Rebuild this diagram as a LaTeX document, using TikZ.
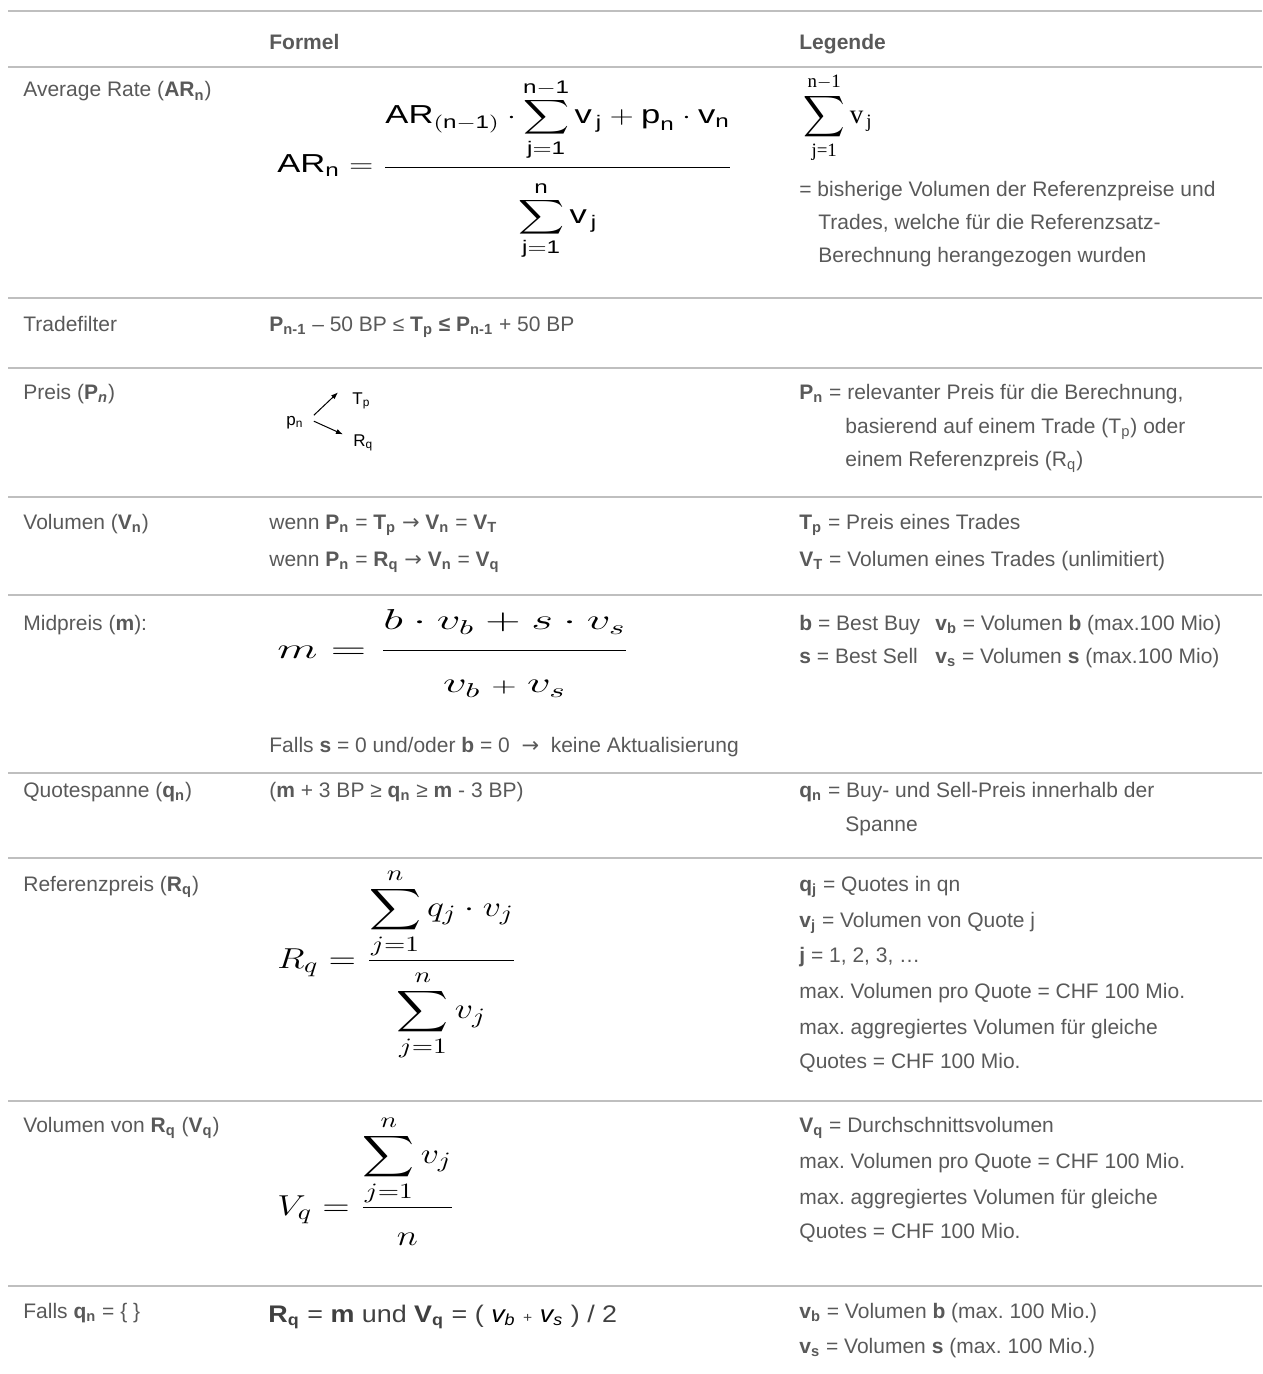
\documentclass[tikz,border=0pt]{standalone}
\usepackage{amsmath}
\usepackage{graphicx}
\usepackage{fontspec}
\setmainfont{Liberation Sans}
\newfontfamily\tms{Liberation Serif}
\newfontfamily\djv{DejaVu Sans}
\usetikzlibrary{arrows.meta}
\definecolor{txtgray}{HTML}{595959}
\definecolor{rulegray}{HTML}{BFBFBF}
\tikzstyle{every node}=[inner sep=0pt,anchor=base west,text=txtgray,font=\fontsize{10.5}{12}\selectfont]
\tikzstyle{rowline}=[rulegray,line width=1pt]
\tikzstyle{formula}=[text=black]
\tikzstyle{small}=[formula,font=\fontsize{8.5}{10}\selectfont]
\tikzstyle{arr}=[-{Latex[length=3.5pt,width=2.6pt]},line width=0.5pt]
\newcommand\tightlimits{\fontdimen9\textfont3=2pt\fontdimen11\textfont3=3pt\fontdimen13\textfont3=0.5pt}
\frenchspacing
\begin{document}
\begin{tikzpicture}[x=0.5pt,y=-0.5pt]
      \useasboundingbox (0,0) rectangle (1262,1374);
      \foreach \y in {11,67,298,368,497,595,773,858,1101,1286}
          \draw[rowline] (8,\y) -- (1262,\y);
      \node (formel) at (269,50) {\textbf{Formel}};
      \node (legende) at (799,50) {\textbf{Legende}};
      \node (ar) at (23,97) {Average Rate (\textbf{AR\textsubscript{n}})};
      \node[formula,font=\fontsize{13}{15}\selectfont] (arf) at (277,173)
          {\scalebox{1.33}[1]{$\displaystyle \text{AR}_{\text{n}} = \frac{\displaystyle\text{AR}_{(\text{n}-\text{1})}\cdot\sum_{\text{j}=\text{1}}^{\text{n}-\text{1}}\text{v}_{\,\text{j}}+\text{p}_{\text{n}}\cdot\text{v}_{\text{n}}\vrule height 0pt depth 20pt width 0pt}{\displaystyle\vrule height 26.5pt depth 0pt width 0pt\sum_{\text{j}=\text{1}}^{\text{n}}\text{v}_{\,\text{j}}}$}};
      \node[formula,font=\tms\fontsize{13.5}{16}\selectfont,anchor=west] (arsum) at (803,118)
          {$\displaystyle\sum_{\text{j=1}}^{\text{n}-\text{1}}\text{v}_{\,\text{j}}$};
      \node (ar1) at (799,197) {= bisherige Volumen der Referenzpreise und};
      \node (ar2) at (818,230) {Trades, welche für die Referenzsatz-};
      \node (ar3) at (818,263) {Berechnung herangezogen wurden};
      \node (tf) at (23,331) {Tradefilter};
      \node (tff) at (269,331) {\textbf{P\textsubscript{n-1}} – 50 BP ≤ \textbf{T\textsubscript{p} ≤ P\textsubscript{n-1}} + 50 BP};
      \node (pr) at (23,399) {Preis (\textbf{P\textsubscript{\itshape n}})};
      \node[small] (pn) at (286,425) {p\textsubscript{n}};
      \node[small] (tp) at (352,404) {T\textsubscript{p}};
      \node[small] (rq) at (353,446) {R\textsubscript{q}};
      \draw[arr] ([shift={(10,-7)}]pn.east) -- ([shift={(-14,-8)}]tp.west);
      \draw[arr] ([shift={(10,-1)}]pn.east) -- ([shift={(-10,-8)}]rq.west);
      \node (pr1) at (799,399) {\textbf{P\textsubscript{n}} = relevanter Preis für die Berechnung,};
      \node (pr2) at (845,433) {basierend auf einem Trade (T\textsubscript{p}) oder};
      \node (pr3) at (845,466) {einem Referenzpreis (R\textsubscript{q})};
      \node (vol) at (23,529) {Volumen (\textbf{V\textsubscript{n}})};
      \node (vol1) at (269,529) {wenn \textbf{P\textsubscript{n}} = \textbf{T\textsubscript{p}} {\djv →} \textbf{V\textsubscript{n}} = \textbf{V\textsubscript{T}}};
      \node (vol2) at (269,566) {wenn \textbf{P\textsubscript{n}} = \textbf{R\textsubscript{q}} {\djv →} \textbf{V\textsubscript{n}} = \textbf{V\textsubscript{q}}};
      \node (vol3) at (799,529) {\textbf{T\textsubscript{p}} = Preis eines Trades};
      \node (vol4) at (799,566) {\textbf{V\textsubscript{T}} = Volumen eines Trades (unlimitiert)};
      \node (mid) at (23,630) {Midpreis (\textbf{m}):};
      \node[formula,font=\fontsize{14}{17}\selectfont] (midf) at (277,658)
          {\scalebox{1.63}[1]{$\displaystyle m=\frac{b\cdot v_b+s\cdot v_s\vrule height 0pt depth 8.5pt width 0pt}{\vrule height 19pt depth 0pt width 0pt v_b\mathbin{\scriptstyle+}v_s}$}};
      \node (mid1) at (269,752) {Falls \textbf{s} = 0 und/oder \textbf{b} = 0 \ {\djv →} \ keine Aktualisierung};
      \node (mid2) at (799,630) {\textbf{b} = Best Buy};
      \node (mid3) at (935,630) {\textbf{v\textsubscript{b}} = Volumen \textbf{b} (max.100 Mio)};
      \node (mid4) at (799,663) {\textbf{s} = Best Sell};
      \node (mid5) at (935,663) {\textbf{v\textsubscript{s}} = Volumen \textbf{s} (max.100 Mio)};
      \node (qs) at (23,797) {Quotespanne (\textbf{q\textsubscript{n}})};
      \node (qsf) at (269,797) {(\textbf{m} + 3 BP ≥ \textbf{q\textsubscript{n}} ≥ \textbf{m} - 3 BP)};
      \node (qs1) at (799,797) {\textbf{q\textsubscript{n}} = Buy- und Sell-Preis innerhalb der};
      \node (qs2) at (845,831) {Spanne};
      \node (ref) at (23,891) {Referenzpreis (\textbf{R\textsubscript{q}})};
      \node[formula,font=\fontsize{15}{18}\selectfont] (reff) at (277,968)
          {\scalebox{1.25}[1]{$\tightlimits\displaystyle R_q=\frac{\displaystyle\sum_{j=1}^{n}q_j\cdot v_j\vrule height 0pt depth 17pt width 0pt}{\displaystyle\vrule height 27pt depth 0pt width 0pt\sum_{j=1}^{n}v_j}$}};
      \node (ref1) at (799,891) {\textbf{q\textsubscript{j}} = Quotes in qn};
      \node (ref2) at (799,927) {\textbf{v\textsubscript{j}} = Volumen von Quote j};
      \node (ref3) at (799,962) {\textbf{j} = 1, 2, 3, …};
      \node (ref4) at (799,998) {max. Volumen pro Quote = CHF 100 Mio.};
      \node (ref5) at (799,1034) {max. aggregiertes Volumen für gleiche};
      \node (ref6) at (799,1068) {Quotes = CHF 100 Mio.};
      \node (vq) at (23,1132) {Volumen von \textbf{R\textsubscript{q}} (\textbf{V\textsubscript{q}})};
      \node[formula,font=\fontsize{15}{18}\selectfont] (vqf) at (277,1215)
          {\scalebox{1.25}[1]{$\tightlimits\displaystyle V_q=\frac{\displaystyle\sum_{j=1}^{n}v_j}{\vrule height 17pt depth 0pt width 0pt n}$}};
      \node (vq1) at (799,1132) {\textbf{V\textsubscript{q}} = Durchschnittsvolumen};
      \node (vq2) at (799,1168) {max. Volumen pro Quote = CHF 100 Mio.};
      \node (vq3) at (799,1204) {max. aggregiertes Volumen für gleiche};
      \node (vq4) at (799,1238) {Quotes = CHF 100 Mio.};
      \node (fq) at (23,1318) {Falls \textbf{q\textsubscript{n}} = \{ \}};
      \node[text=black!75,font=\fontsize{12}{14}\selectfont] (fqf) at (268,1322)
          {\scalebox{1.12}[1]{\textbf{R\textsubscript{q}} = \textbf{m} und \textbf{V\textsubscript{q}} = ( {\color{black}\itshape v\textsubscript{b}} {\scriptsize +} {\color{black}\itshape v\textsubscript{s}} ) / 2}};
      \node (fq1) at (799,1318) {\textbf{v\textsubscript{b}} = Volumen \textbf{b} (max. 100 Mio.)};
      \node (fq2) at (799,1353) {\textbf{v\textsubscript{s}} = Volumen \textbf{s} (max. 100 Mio.)};
\end{tikzpicture}
\end{document}
